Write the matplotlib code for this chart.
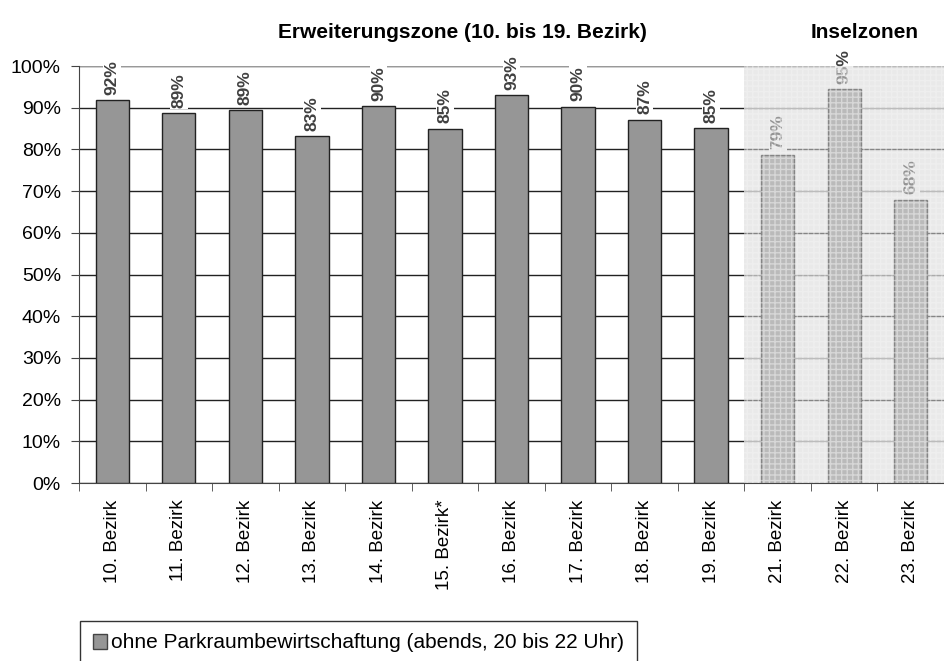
import matplotlib.pyplot as plt
from matplotlib.patches import Rectangle
import numpy as np

plt.rcParams['font.family'] = ['Liberation Sans', 'DejaVu Sans']

districts = ['10. Bezirk', '11. Bezirk', '12. Bezirk', '13. Bezirk', '14. Bezirk',
             '15. Bezirk*', '16. Bezirk', '17. Bezirk', '18. Bezirk', '19. Bezirk',
             '21. Bezirk', '22. Bezirk', '23. Bezirk']
values = [91.8, 88.7, 89.4, 83.2, 90.3, 85.0, 93.0, 90.2, 87.1, 85.1, 78.7, 94.5, 67.9]
labels = ['92%', '89%', '89%', '83%', '90%', '85%', '93%', '90%', '87%', '85%', '79%', '95%', '68%']
n_outer = 10  # first 10 = Erweiterungszone, rest = Inselzonen

fig = plt.figure(figsize=(9.44, 6.61), dpi=100)
ax = fig.add_axes([79 / 944, 1 - 483 / 661, 1 - 79 / 944, (483 - 66) / 661])

x = np.arange(len(districts))
ax.bar(x, values, width=0.5, color='#969696', edgecolor='#222222', linewidth=1, zorder=3)

for xi, v, lab in zip(x, values, labels):
    ax.text(xi, v + 1.3, lab, rotation=90, ha='center', va='bottom', fontsize=12.5,
            fontweight='bold', color='#404040', zorder=4, clip_on=False,
            bbox=dict(facecolor='white', edgecolor='none', pad=1))

ax.set_xlim(-0.5, len(districts) - 0.5)
ax.set_ylim(0, 100)

# shaded overlay for Inselzonen
ax.add_patch(Rectangle((n_outer - 0.5, 0), len(districts) - n_outer, 100,
                       facecolor='#d8d8d8', alpha=0.55, edgecolor='none', zorder=5))
ax.add_patch(Rectangle((n_outer - 0.5, 0), len(districts) - n_outer, 100,
                       facecolor='none', hatch='+++', edgecolor='#f4f4f4', linewidth=0,
                       alpha=0.5, zorder=5))

ax.set_yticks(np.arange(0, 101, 10))
ax.set_yticklabels([f'{t}%' for t in range(0, 101, 10)], fontsize=14)
ax.yaxis.grid(True, color='#222222', linewidth=1)
ax.set_axisbelow(True)

ax.set_xticks(x)
ax.set_xticklabels(districts, rotation=90, fontsize=13.5)
ax.tick_params(axis='x', length=0, pad=12)
ax.set_xticks(np.arange(-0.5, len(districts), 1), minor=True)
ax.tick_params(axis='x', which='minor', length=6, color='#444444')
ax.tick_params(axis='y', length=6, color='#444444', pad=7)

for s in ['top', 'right']:
    ax.spines[s].set_visible(False)
ax.spines['left'].set_color('#444444')
ax.spines['bottom'].set_color('#444444')
ax.axhline(100, color='#999999', linewidth=1.5, zorder=2)

fig.text(278 / 944, 1 - 33 / 661, 'Erweiterungszone (10. bis 19. Bezirk)', ha='left',
         va='center', fontsize=15, fontweight='bold')
fig.text(865 / 944, 1 - 33 / 661, 'Inselzonen', ha='center', va='center',
         fontsize=15, fontweight='bold')

handle = Rectangle((0, 0), 1, 1, facecolor='#969696', edgecolor='#444444')
leg = fig.legend([handle], ['ohne Parkraumbewirtschaftung (abends, 20 bis 22 Uhr)'],
                 loc='upper left', bbox_to_anchor=(80 / 944, 1 - 621 / 661),
                 fontsize=15, frameon=True, fancybox=False, handlelength=0.7,
                 handleheight=0.7, handletextpad=0.2, borderpad=0.6, borderaxespad=0)
leg.get_frame().set_edgecolor('black')
leg.get_frame().set_linewidth(1)

fig.savefig('out.png', dpi=100)
